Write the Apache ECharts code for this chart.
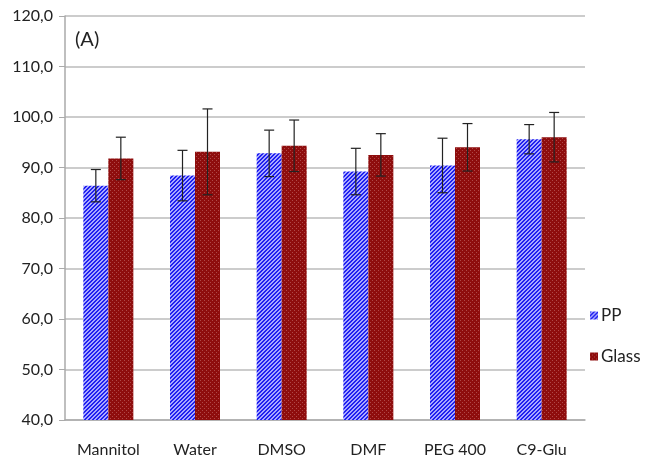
<!DOCTYPE html>
<html><head><meta charset="utf-8">
<script src="https://cdn.jsdelivr.net/npm/echarts@6/dist/echarts.min.js"></script>
<style>html,body{margin:0;padding:0;background:#fff}#c{width:649px;height:462px}</style>
</head><body><div id="c"></div>
<script>
const categories = ['Mannitol','Water','DMSO','DMF','PEG 400','C9-Glu'];
const ppValues = [86.4, 88.4, 92.8, 89.2, 90.4, 95.6];
const glassValues = [91.8, 93.1, 94.3, 92.5, 94.0, 96.0];
const ppErrors = [3.2, 5.0, 4.6, 4.6, 5.4, 2.9];
const glassErrors = [4.2, 8.5, 5.1, 4.2, 4.7, 4.9];
const yTicks = [40, 50, 60, 70, 80, 90, 100, 110, 120];

function makePattern(kind){
  const c = document.createElement('canvas');
  c.width = 4; c.height = 4;
  const g = c.getContext('2d');
  if(kind === 'pp'){
    g.fillStyle = '#a8a8ff'; g.fillRect(0,0,4,4);
    g.fillStyle = '#2020f0';
    for(let i=0;i<4;i++){ g.fillRect(i,3-i,1,1); g.fillRect((i+1)%4,3-i,1,1); }
  } else {
    g.fillStyle = '#8e0d0d'; g.fillRect(0,0,4,4);
    g.fillStyle = '#b04848';
    g.fillRect(0,0,1,1); g.fillRect(2,2,1,1);
  }
  return c;
}
const ppFill = {image: makePattern('pp'), repeat: 'repeat'};
const glassFill = {image: makePattern('glass'), repeat: 'repeat'};

const chart = echarts.init(document.getElementById('c'));
const font = 'Lato, "Open Sans", sans-serif';

function errSeries(values, errs, offset){
  return {
    type: 'custom',
    data: values.map((v,i)=>[i, v - errs[i], v + errs[i]]),
    z: 10,
    silent: true,
    renderItem: function(params, api){
      const lo = api.coord([api.value(0), api.value(1)]);
      const hi = api.coord([api.value(0), api.value(2)]);
      const x = lo[0] + offset;
      const cap = 5;
      const st = {stroke: '#222', lineWidth: 1.2};
      return {type:'group', children:[
        {type:'line', shape:{x1:x,y1:lo[1],x2:x,y2:hi[1]}, style:st},
        {type:'line', shape:{x1:x-cap,y1:lo[1],x2:x+cap,y2:lo[1]}, style:st},
        {type:'line', shape:{x1:x-cap,y1:hi[1],x2:x+cap,y2:hi[1]}, style:st}
      ]};
    }
  };
}

chart.setOption({
  animation: false,
  backgroundColor: '#fff',
  title: {text: '(A)', left: 70, top: 25, textStyle: {fontFamily: font, fontSize: 20, fontWeight: 'normal', color: '#222'}},
  grid: {left: 65, right: 64, top: 16, bottom: 42},
  legend: {
    orient: 'vertical', left: 585, top: 302, itemGap: 24, itemWidth: 8, itemHeight: 8,
    textStyle: {fontFamily: font, fontSize: 17, color: '#222', padding: [0,0,0,-2]},
    data: [{name:'PP', icon:'rect'}, {name:'Glass', icon:'rect'}]
  },
  xAxis: {
    type: 'category', data: categories,
    axisLine: {lineStyle: {color: '#aaa', width: 1.5}},
    axisTick: {length: 6, lineStyle: {color: '#aaa'}},
    axisLabel: {fontFamily: font, fontSize: 16, color: '#222', margin: 22}
  },
  yAxis: {
    type: 'value', min: yTicks[0], max: yTicks[yTicks.length-1], interval: 10,
    axisLine: {show: true, lineStyle: {color: '#aaa', width: 1.5}},
    axisTick: {show: true, length: 6, lineStyle: {color: '#aaa'}},
    splitLine: {lineStyle: {color: '#bbb', width: 1.5}},
    axisLabel: {fontFamily: font, fontSize: 16, color: '#222', margin: 12,
      formatter: v => v.toFixed(1).replace('.', ',')}
  },
  series: [
    {name: 'PP', type: 'bar', data: ppValues, barWidth: 25, barGap: '0%', itemStyle: {color: ppFill}},
    {name: 'Glass', type: 'bar', data: glassValues, barWidth: 25, barGap: '0%', itemStyle: {color: glassFill}},
    errSeries(ppValues, ppErrors, -12.5),
    errSeries(glassValues, glassErrors, 12.5)
  ]
});
</script></body></html>
